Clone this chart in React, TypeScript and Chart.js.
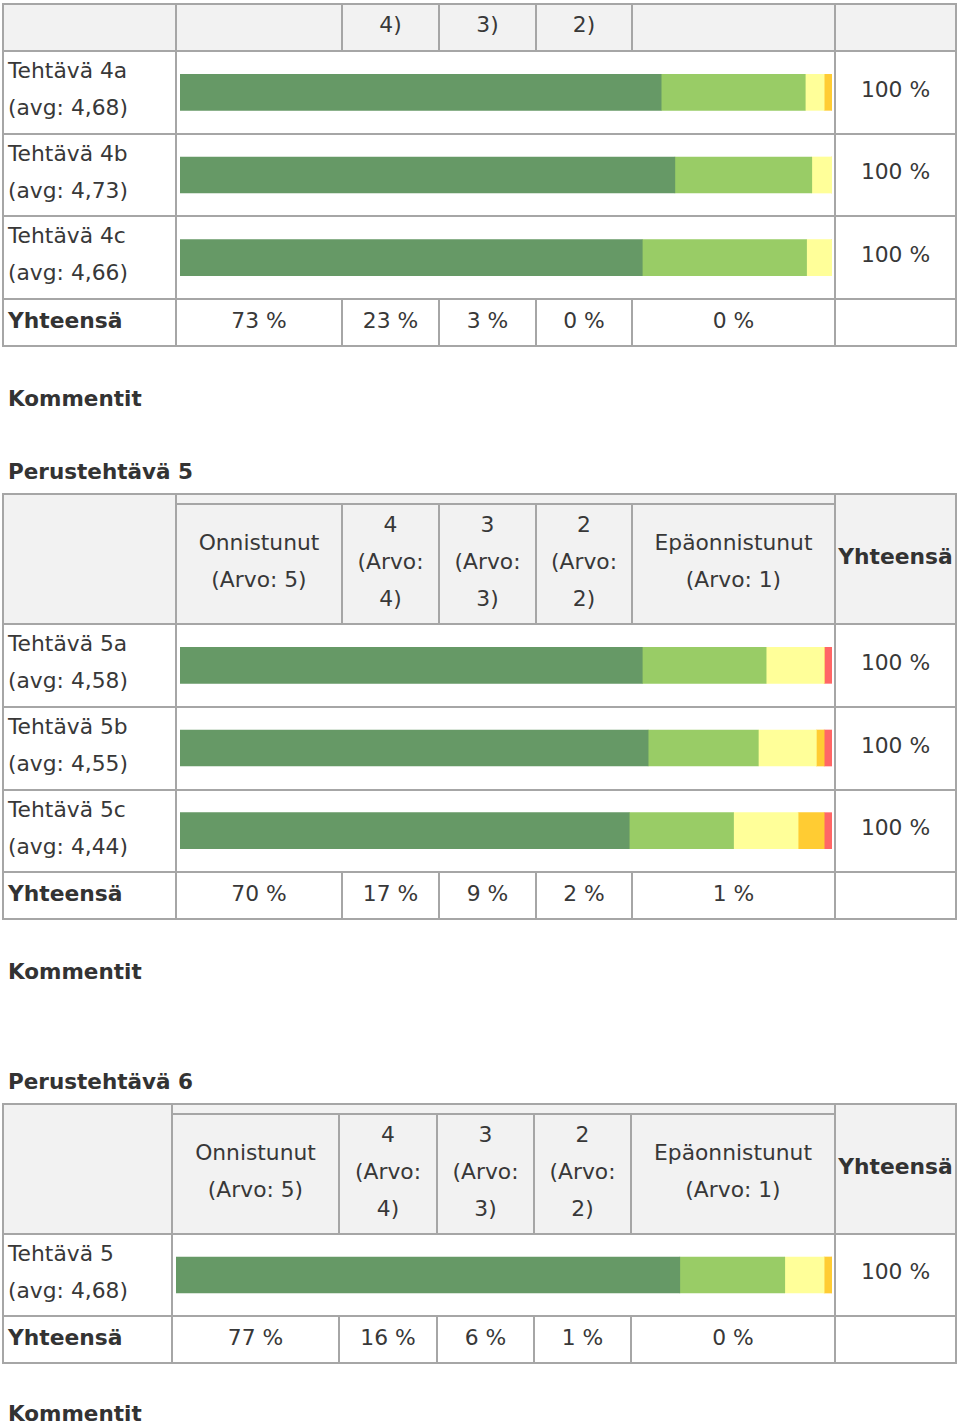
import React, { useEffect, useRef } from "react";
import { Chart, registerables } from "chart.js";
Chart.register(...registerables);

// ---- data ----
const CATEGORIES = ["Onnistunut (Arvo: 5)", "4 (Arvo: 4)", "3 (Arvo: 3)", "2 (Arvo: 2)", "Epäonnistunut (Arvo: 1)"];
const CAT_COLORS = ["#669966", "#99cc66", "#ffff99", "#ffcc33", "#ff6666"];

const TASKS_4 = ["Tehtävä 4a", "Tehtävä 4b", "Tehtävä 4c"];
const AVG_4 = ["4,68", "4,73", "4,66"];
const SHARES_4 = [
  [73.8, 22.1, 2.9, 1.2, 0],
  [75.9, 21.0, 3.1, 0, 0],
  [70.9, 25.2, 3.9, 0, 0],
];
const TOTALS_4 = ["73 %", "23 %", "3 %", "0 %", "0 %"];

const TASKS_5 = ["Tehtävä 5a", "Tehtävä 5b", "Tehtävä 5c"];
const AVG_5 = ["4,58", "4,55", "4,44"];
const SHARES_5 = [
  [70.9, 19.0, 8.9, 0, 1.2],
  [71.8, 16.9, 8.9, 1.2, 1.2],
  [68.9, 16.0, 9.9, 4.0, 1.2],
];
const TOTALS_5 = ["70 %", "17 %", "9 %", "2 %", "1 %"];

const TASKS_6 = ["Tehtävä 5"];
const AVG_6 = ["4,68"];
const SHARES_6 = [[76.8, 16.0, 6.0, 1.2, 0]];
const TOTALS_6 = ["77 %", "16 %", "6 %", "1 %", "0 %"];

const ROW_TOTAL = "100 %";
const HEADER_LINES = [["Onnistunut", "(Arvo: 5)"], ["4", "(Arvo:", "4)"], ["3", "(Arvo:", "3)"], ["2", "(Arvo:", "2)"], ["Epäonnistunut", "(Arvo: 1)"]];

// ---- style ----
const FONT = '"DejaVu Sans", Verdana, sans-serif';
const FS = 21.8;
const LH = 37;
const TXT = "#383838";
const LINE = "#a6a6a6";
const GRAY = "#f2f2f2";

type CellProps = {
  x0: number; x1: number; y0: number; y1: number; bg?: string;
  children?: React.ReactNode; justify?: string; align?: string; style?: React.CSSProperties;
};
function Cell({ x0, x1, y0, y1, bg = "#fff", children, justify = "center", align = "center", style }: CellProps) {
  return (
    <div
      style={{
        position: "absolute", left: x0, top: y0, width: x1 - x0, height: y1 - y0,
        boxSizing: "border-box", border: `1px solid ${LINE}`, background: bg,
        display: "flex", justifyContent: justify, alignItems: align, textAlign: "center",
        fontFamily: FONT, fontSize: FS, lineHeight: LH + "px", color: TXT, whiteSpace: "nowrap", ...style,
      }}
    >
      {children}
    </div>
  );
}

function BarChart({ x0, x1, y0, y1, labels, rows }: { x0: number; x1: number; y0: number; y1: number; labels: string[]; rows: number[][] }) {
  const ref = useRef<HTMLCanvasElement | null>(null);
  useEffect(() => {
    if (!ref.current) return;
    const chart = new Chart(ref.current, {
      type: "bar",
      data: {
        labels,
        datasets: CATEGORIES.map((c, i) => ({
          label: c,
          data: rows.map((r) => r[i]),
          backgroundColor: CAT_COLORS[i],
          borderWidth: 0,
          barThickness: 36,
        })),
      },
      options: {
        indexAxis: "y",
        responsive: false,
        animation: false,
        layout: { padding: 0 },
        plugins: { legend: { display: false }, tooltip: { enabled: false } },
        scales: {
          x: { stacked: true, min: 0, max: 100, display: false },
          y: { stacked: true, display: false },
        },
      },
    });
    return () => chart.destroy();
  }, []);
  return (
    <div style={{ position: "absolute", left: x0, top: y0, width: x1 - x0, height: y1 - y0 }}>
      <canvas ref={ref} width={x1 - x0} height={y1 - y0} style={{ width: x1 - x0, height: y1 - y0 }} />
    </div>
  );
}

type TableProps = {
  cols: number[]; headTop: number; stripBottom: number | null; headBottom: number; rowEdges: number[]; totalBottom: number;
  tasks: string[]; avgs: string[]; shares: number[][]; totals: string[]; cutHeader?: boolean; barX0: number; barX1: number;
};

function SurveyTable(p: TableProps) {
  const { cols } = p;
  const last = cols.length - 1;
  const els: React.ReactNode[] = [];
  els.push(
    <div key="outline" style={{ position: "absolute", left: cols[0] - 1, top: p.headTop - 1, width: cols[last] - cols[0] + 2, height: p.totalBottom - p.headTop + 2, boxSizing: "border-box", border: `1px solid ${LINE}` }} />
  );
  // header
  els.push(<Cell key="h0" x0={cols[0]} x1={cols[1]} y0={p.headTop} y1={p.headBottom} bg={GRAY} />);
  els.push(
    <Cell key="hl" x0={cols[last - 1]} x1={cols[last]} y0={p.headTop} y1={p.headBottom} bg={GRAY} style={{ fontWeight: "bold", color: "#333", paddingBottom: 6 }}>
      {p.cutHeader ? null : "Yhteensä"}
    </Cell>
  );
  const subTop = p.stripBottom ?? p.headTop;
  if (p.stripBottom !== null) {
    els.push(<Cell key="strip" x0={cols[1]} x1={cols[last - 1]} y0={p.headTop} y1={p.stripBottom} bg={GRAY} />);
  }
  for (let i = 0; i < 5; i++) {
    const lines = p.cutHeader ? (i >= 1 && i <= 3 ? [HEADER_LINES[i][2]] : []) : HEADER_LINES[i];
    els.push(
      <Cell key={"hc" + i} x0={cols[i + 1]} x1={cols[i + 2]} y0={subTop} y1={p.headBottom} bg={GRAY} style={{ paddingBottom: 6 }}>
        <div>{lines.map((l, k) => <div key={k}>{l}</div>)}</div>
      </Cell>
    );
  }
  // data rows
  for (let r = 0; r < p.tasks.length; r++) {
    const y0 = p.rowEdges[r], y1 = p.rowEdges[r + 1];
    els.push(
      <Cell key={"l" + r} x0={cols[0]} x1={cols[1]} y0={y0} y1={y1} justify="flex-start" align="flex-start" style={{ textAlign: "left", paddingLeft: 4 }}>
        <div>
          <div>{p.tasks[r]}</div>
          <div>(avg: {p.avgs[r]})</div>
        </div>
      </Cell>
    );
    els.push(<Cell key={"b" + r} x0={cols[1]} x1={cols[last - 1]} y0={y0} y1={y1} />);
    els.push(
      <Cell key={"t" + r} x0={cols[last - 1]} x1={cols[last]} y0={y0} y1={y1} style={{ paddingBottom: 7 }}>
        {ROW_TOTAL}
      </Cell>
    );
  }
  const ty0 = p.rowEdges[p.tasks.length];
  els.push(
    <Cell key="tl" x0={cols[0]} x1={cols[1]} y0={ty0} y1={p.totalBottom} justify="flex-start" style={{ fontWeight: "bold", color: "#333", paddingLeft: 4, paddingBottom: 4 }}>
      Yhteensä
    </Cell>
  );
  for (let i = 0; i < 5; i++) {
    els.push(
      <Cell key={"tc" + i} x0={cols[i + 1]} x1={cols[i + 2]} y0={ty0} y1={p.totalBottom} style={{ paddingBottom: 4 }}>
        {p.totals[i]}
      </Cell>
    );
  }
  els.push(<Cell key="te" x0={cols[last - 1]} x1={cols[last]} y0={ty0} y1={p.totalBottom} />);
  return (
    <>
      {els}
      <BarChart x0={p.barX0} x1={p.barX1} y0={p.rowEdges[0]} y1={ty0} labels={p.tasks} rows={p.shares} />
    </>
  );
}

function Heading({ y, text }: { y: number; text: string }) {
  return (
    <div style={{ position: "absolute", left: 8, top: y - LH / 2, fontFamily: FONT, fontSize: 21.5, lineHeight: LH + "px", fontWeight: "bold", color: "#333", whiteSpace: "nowrap" }}>
      {text}
    </div>
  );
}

export default function App() {
  useEffect(() => {
    document.body.style.margin = "0";
  }, []);
  const colsA = [3, 176, 342, 439, 536, 632, 835, 956];
  const colsB = [3, 172, 339, 437, 534, 631, 835, 956];
  return (
    <div style={{ position: "absolute", left: 0, top: 0, width: 960, height: 1428, overflow: "hidden", background: "#fff" }}>
      <SurveyTable cols={colsA} headTop={4} stripBottom={null} headBottom={51} rowEdges={[51, 134, 216, 299]} totalBottom={346}
        tasks={TASKS_4} avgs={AVG_4} shares={SHARES_4} totals={TOTALS_4} cutHeader barX0={180} barX1={832} />
      <Heading y={398} text="Kommentit" />
      <Heading y={471} text="Perustehtävä 5" />
      <SurveyTable cols={colsA} headTop={494} stripBottom={504} headBottom={624} rowEdges={[624, 707, 790, 872]} totalBottom={919}
        tasks={TASKS_5} avgs={AVG_5} shares={SHARES_5} totals={TOTALS_5} barX0={180} barX1={832} />
      <Heading y={971} text="Kommentit" />
      <Heading y={1081} text="Perustehtävä 6" />
      <SurveyTable cols={colsB} headTop={1104} stripBottom={1114} headBottom={1234} rowEdges={[1234, 1316]} totalBottom={1363}
        tasks={TASKS_6} avgs={AVG_6} shares={SHARES_6} totals={TOTALS_6} barX0={176} barX1={832} />
      <Heading y={1413} text="Kommentit" />
    </div>
  );
}
